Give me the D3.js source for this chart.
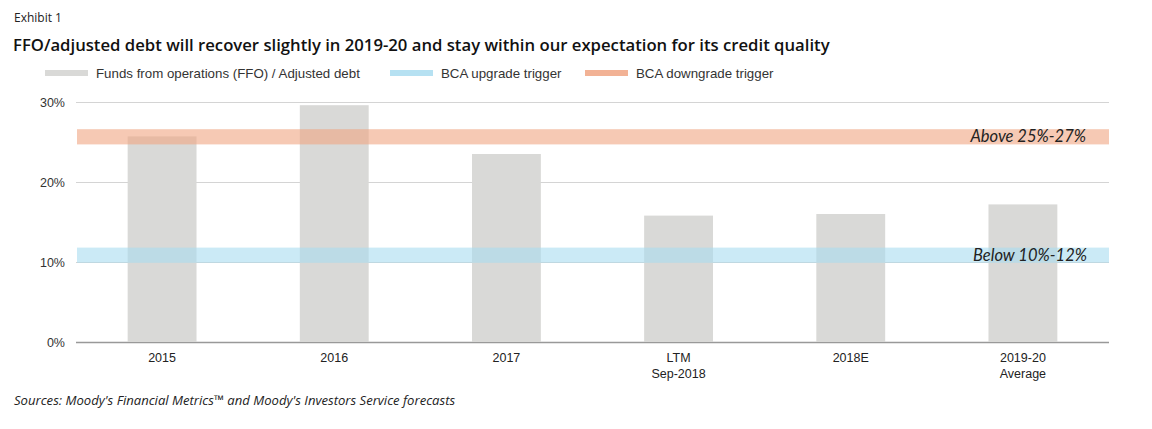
<!DOCTYPE html>
<html>
<head>
<meta charset="utf-8">
<script src="https://cdn.jsdelivr.net/npm/d3@7"></script>
<style>
  body { margin: 0; background: #fff; }
  svg { display: block; }
</style>
</head>
<body>
<div id="chart"></div>
<script>
// chart values
var categories = ["2015", "2016", "2017", "LTM\nSep-2018", "2018E", "2019-20\nAverage"];
var ffoDebt = [25.7, 29.6, 23.5, 15.8, 16.0, 17.2];
var yTicks = [0, 10, 20, 30];
var upgradeBand = [9.9, 11.8];
var downgradeBand = [24.7, 26.6];
var legendLabels = ["Funds from operations (FFO) / Adjusted debt", "BCA upgrade trigger", "BCA downgrade trigger"];

var svgWidth = 1152;
var svgHeight = 429;
var margin = { top: 102, right: 43, bottom: 87, left: 76 };
var width = svgWidth - margin.left - margin.right;
var height = svgHeight - margin.top - margin.bottom;

var barColor = "#d9d9d7";
var blueColor = "#a9dcf0";
var orangeColor = "#f0a582";

var svg = d3.select("#chart")
    .append("svg")
    .attr("width", svgWidth)
    .attr("height", svgHeight);

// titles
svg.append("text")
    .attr("x", 14).attr("y", 22)
    .style("font-family", "'Open Sans', sans-serif")
    .style("font-size", "12px")
    .attr("fill", "#222")
    .text("Exhibit 1");

svg.append("text")
    .attr("x", 13).attr("y", 51)
    .style("font-family", "'Open Sans', sans-serif")
    .style("font-size", "16.7px")
    .style("font-weight", 600)
    .attr("fill", "#111")
    .text("FFO/adjusted debt will recover slightly in 2019-20 and stay within our expectation for its credit quality");

// legend
var legendX = [45, 390, 585];
var legendColors = [barColor, blueColor, orangeColor];
var legend = svg.selectAll(".legend")
    .data(legendLabels)
    .enter()
    .append("g")
    .attr("transform", function(d, i) { return "translate(" + legendX[i] + ",73)"; });

legend.append("rect")
    .attr("x", 0).attr("y", -3)
    .attr("width", 43).attr("height", 6)
    .attr("fill", function(d, i) { return legendColors[i]; })
    .attr("opacity", function(d, i) { return i == 0 ? 1 : 0.85; });

legend.append("text")
    .attr("x", 51).attr("y", 4.5)
    .style("font-family", "'Liberation Sans', Arial, sans-serif")
    .style("font-size", "13.3px")
    .attr("fill", "#333")
    .text(function(d) { return d; });

var chartGroup = svg.append("g")
    .attr("transform", "translate(" + margin.left + "," + margin.top + ")");

// scales
var xScale = d3.scaleBand()
    .domain(categories)
    .range([0, width])
    .paddingInner(0.6)
    .paddingOuter(0.3);

var yScale = d3.scaleLinear()
    .domain([0, 30])
    .range([height, 0]);

// grid lines
var yAxis = d3.axisLeft(yScale)
    .tickValues(yTicks)
    .tickSize(-width)
    .tickFormat(function(d) { return d + "%"; });

var yAxisG = chartGroup.append("g").call(yAxis);
yAxisG.select(".domain").remove();
yAxisG.selectAll(".tick line")
    .attr("stroke", function(d) { return d == 0 ? "#999" : "#d4d4d4"; })
    .attr("stroke-width", function(d) { return d == 0 ? 1.5 : 1; });
yAxisG.selectAll(".tick text")
    .attr("x", -11)
    .style("font-family", "'Liberation Sans', Arial, sans-serif")
    .style("font-size", "12.5px")
    .attr("fill", "#333");

// bars
chartGroup.selectAll(".bar")
    .data(ffoDebt)
    .enter()
    .append("rect")
    .attr("class", "bar")
    .attr("x", function(d, i) { return xScale(categories[i]); })
    .attr("width", xScale.bandwidth())
    .attr("y", function(d) { return yScale(d); })
    .attr("height", function(d) { return height - yScale(d); })
    .attr("fill", barColor);

// trigger bands
chartGroup.append("rect")
    .attr("x", 1)
    .attr("width", width - 1)
    .attr("y", yScale(downgradeBand[1]))
    .attr("height", yScale(downgradeBand[0]) - yScale(downgradeBand[1]))
    .attr("fill", orangeColor)
    .attr("opacity", 0.6);

chartGroup.append("rect")
    .attr("x", 1)
    .attr("width", width - 1)
    .attr("y", yScale(upgradeBand[1]))
    .attr("height", yScale(upgradeBand[0]) - yScale(upgradeBand[1]))
    .attr("fill", blueColor)
    .attr("opacity", 0.6);

chartGroup.append("text")
    .attr("x", width - 23)
    .attr("y", (yScale(downgradeBand[0]) + yScale(downgradeBand[1])) / 2 + 5.5)
    .attr("text-anchor", "end")
    .style("font-family", "Lato, sans-serif")
    .style("font-size", "16.5px")
    .style("font-style", "italic")
    .attr("fill", "#222")
    .text("Above 25%-27%");

chartGroup.append("text")
    .attr("x", width - 22)
    .attr("y", (yScale(upgradeBand[0]) + yScale(upgradeBand[1])) / 2 + 5.5)
    .attr("text-anchor", "end")
    .style("font-family", "Lato, sans-serif")
    .style("font-size", "16.5px")
    .style("font-style", "italic")
    .attr("fill", "#222")
    .text("Below 10%-12%");

// x axis labels
var xLabels = chartGroup.selectAll(".xlabel")
    .data(categories)
    .enter()
    .append("text")
    .attr("x", function(d) { return xScale(d) + xScale.bandwidth() / 2; })
    .attr("y", height + 20)
    .attr("text-anchor", "middle")
    .style("font-family", "'Liberation Sans', Arial, sans-serif")
    .style("font-size", "12.5px")
    .attr("fill", "#222");

xLabels.selectAll("tspan")
    .data(function(d) { return d.split("\n"); })
    .enter()
    .append("tspan")
    .attr("x", function() { return d3.select(this.parentNode).attr("x"); })
    .attr("dy", function(d, i) { return i == 0 ? 0 : 16; })
    .text(function(d) { return d; });

// source
svg.append("text")
    .attr("x", 14).attr("y", 405)
    .style("font-family", "'Open Sans', sans-serif")
    .style("font-size", "13.1px")
    .style("font-style", "italic")
    .attr("fill", "#222")
    .text("Sources: Moody's Financial Metrics\u2122 and Moody's Investors Service forecasts");
</script>
</body>
</html>
